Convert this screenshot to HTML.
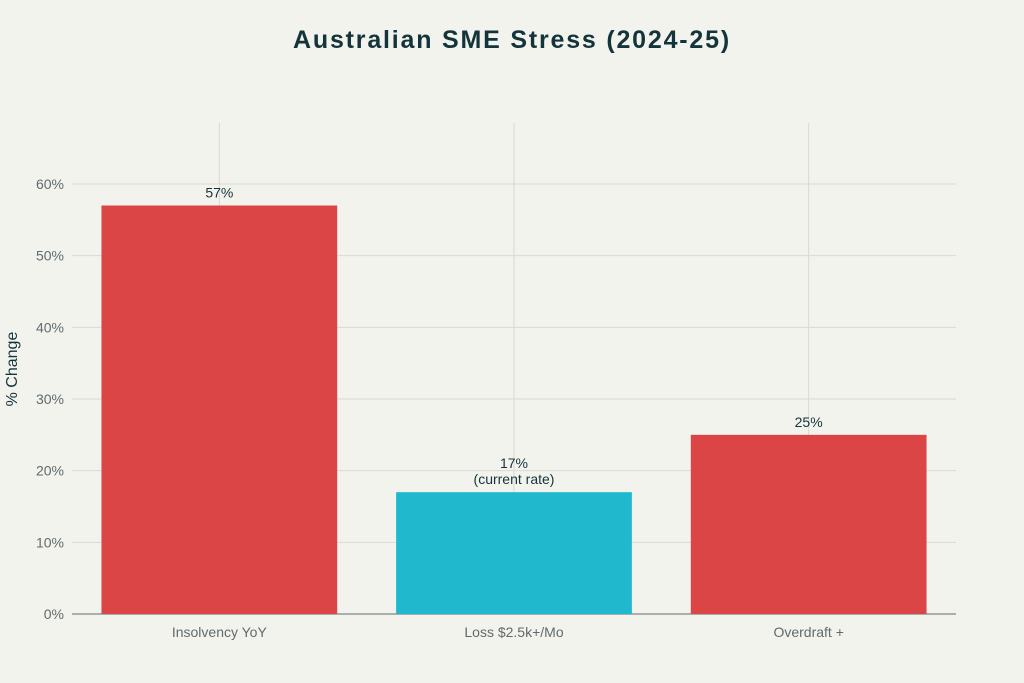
<!DOCTYPE html>
<html><head><meta charset="utf-8"><style>
body{margin:0;background:#f3f3ee;}
svg{display:block;font-family:"Liberation Sans",sans-serif;}
</style></head><body>
<svg id="chart" width="1024" height="683" viewBox="0 0 1024 683">
<rect width="1024" height="683" fill="#f3f3ee"/>
<text x="512" y="48" text-anchor="middle" font-size="25" font-weight="bold" letter-spacing="1.8" fill="#13343b">Australian SME Stress (2024-25)</text>
<text transform="translate(17,369) rotate(-90)" text-anchor="middle" font-size="16" fill="#13343b">% Change</text>
<g id="grid"></g><g id="bars"></g><g id="labels"></g>
</svg>
<script>
const categories=["Insolvency YoY","Loss $2.5k+/Mo","Overdraft +"];
const values=[57,17,25];
const barLabels=[["57%"],["17%","(current rate)"],["25%"]];
const colors=["#db4545","#1fb8cd","#db4545"];
const yTicks=[0,10,20,30,40,50,60];
const NS="http://www.w3.org/2000/svg";
const x0=72,x1=956,yTop=123,y0=614,yMaxPx=184,yMaxVal=60;
const y=v=>y0-(y0-yMaxPx)*v/yMaxVal;
const band=(x1-x0)/categories.length;
const xc=i=>x0+band*(i+0.5);
const bw=band*0.8;
function mk(t,a,p){const e=document.createElementNS(NS,t);for(const k in a)e.setAttribute(k,a[k]);p.appendChild(e);return e;}
const g=document.getElementById('grid'),b=document.getElementById('bars'),l=document.getElementById('labels');
yTicks.forEach(t=>{
 if(t>0){const ln=mk('line',{x1:x0,x2:x1,y1:y(t),y2:y(t),stroke:'#d9d9d4','stroke-width':1},g);
 
 }
 const tx=mk('text',{x:64,y:y(t)+5,'text-anchor':'end','font-size':14,fill:'#5f6b6d'},g);tx.textContent=t+'%';
 
 
});
categories.forEach((c,i)=>{
 const vl=mk('line',{x1:xc(i),x2:xc(i),y1:yTop,y2:y0,stroke:'#d9d9d4','stroke-width':1},g);
 
 
 const r=mk('rect',{x:xc(i)-bw/2,y:y(values[i]),width:bw,height:y0-y(values[i]),fill:colors[i]},b);
 
 
 const tx=mk('text',{x:xc(i),y:y0+23,'text-anchor':'middle','font-size':14,fill:'#5f6b6d'},l);tx.textContent=c;
 
 
 const lines=barLabels[i];
 lines.forEach((s,j)=>{
  const t=mk('text',{x:xc(i),y:y(values[i])-8-(lines.length-1-j)*16,'text-anchor':'middle','font-size':14,fill:'#13343b'},l);t.textContent=s;
  
  
 });
});
const ax=mk('line',{x1:x0,x2:x1,y1:y0,y2:y0,stroke:'#5f6b6d','stroke-width':1},g);


</script>
</body></html>
